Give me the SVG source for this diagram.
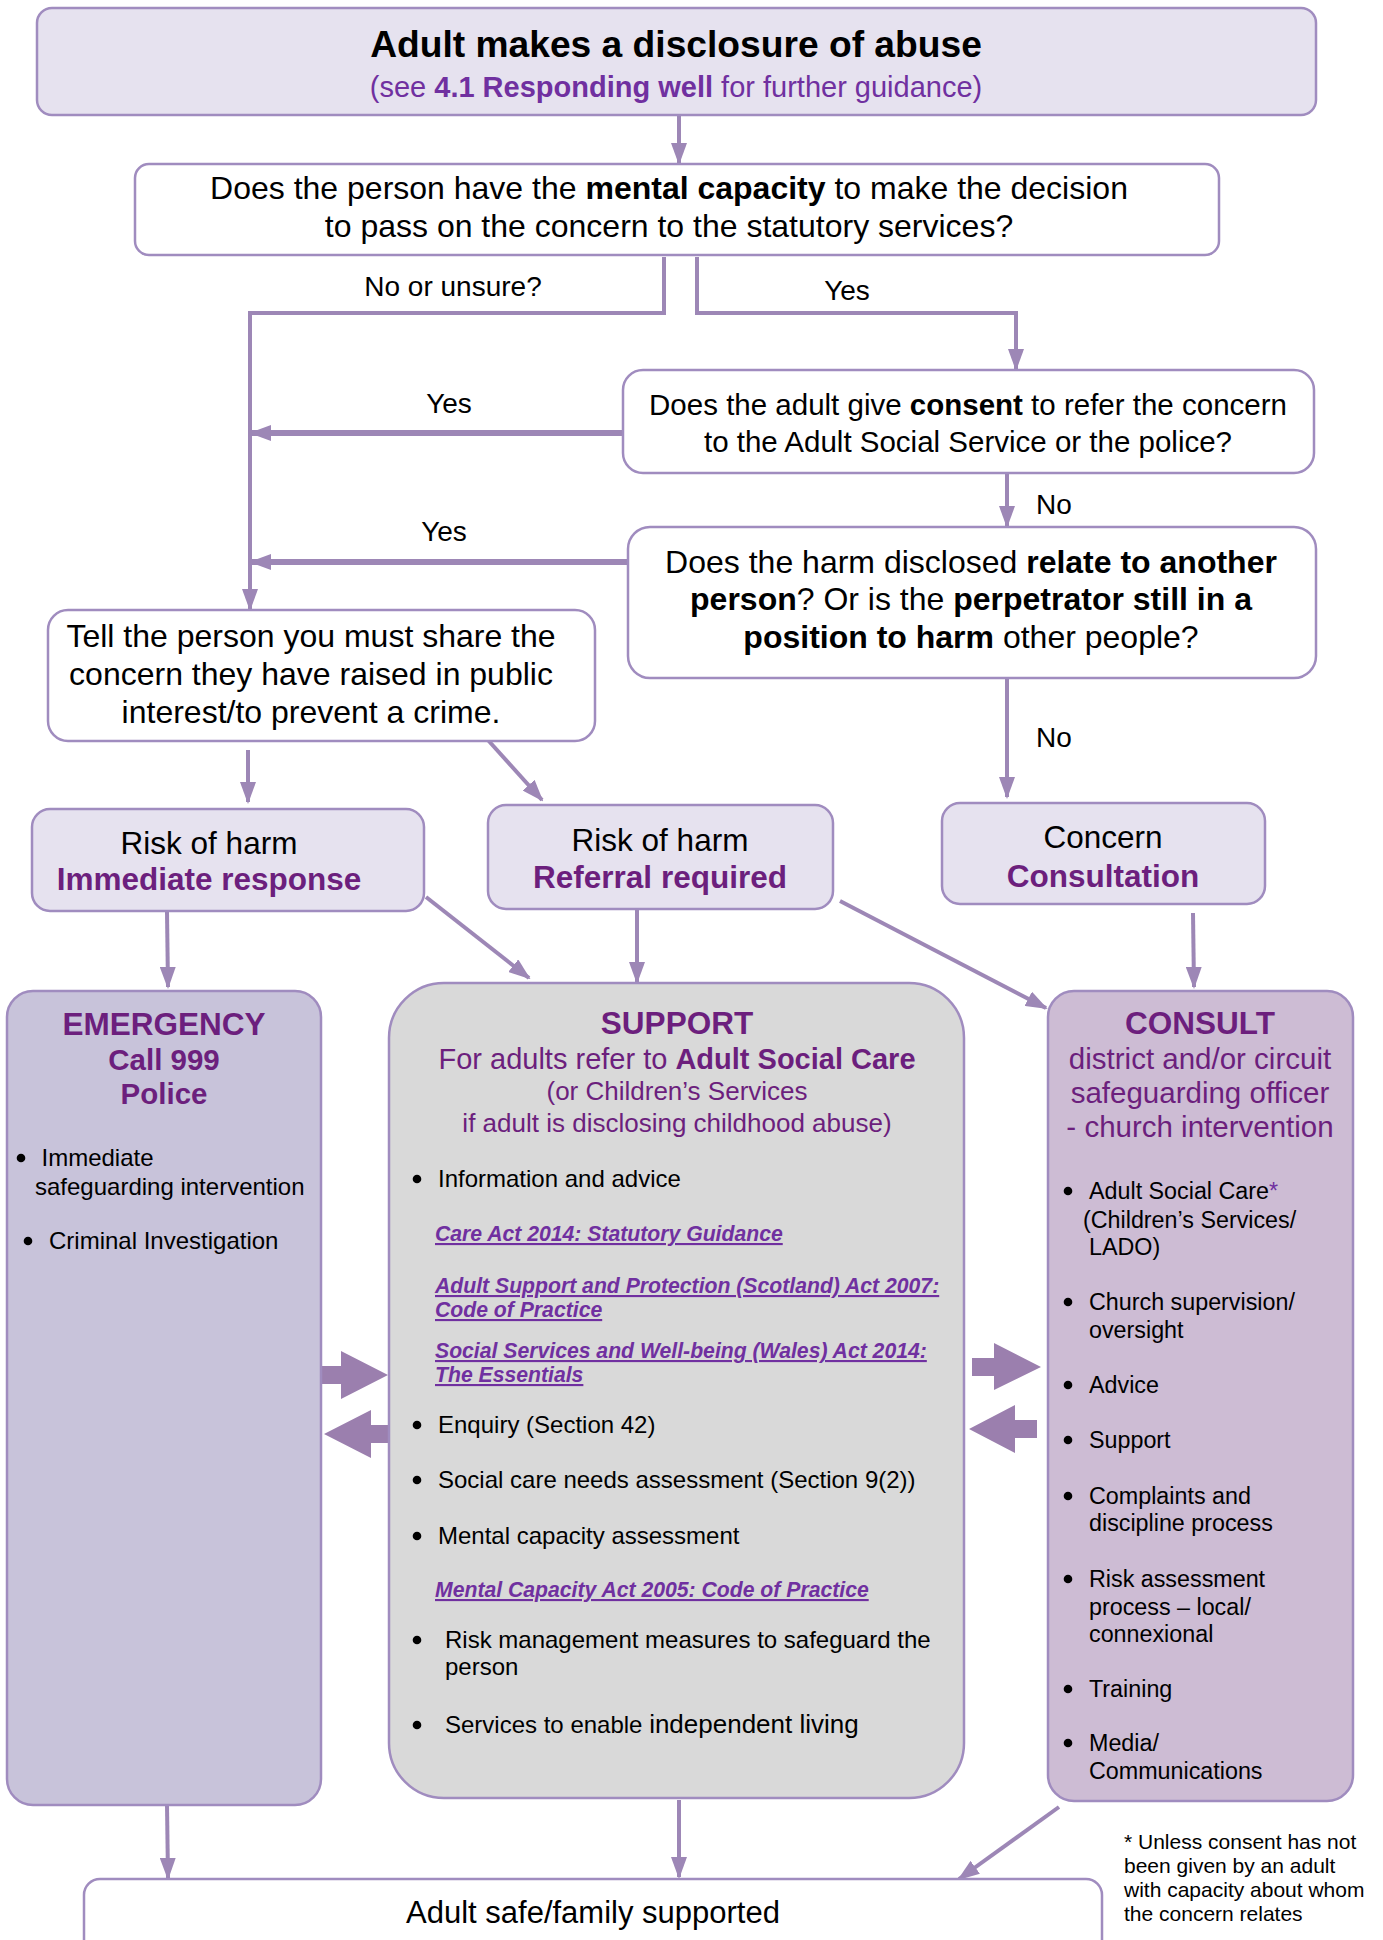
<svg xmlns="http://www.w3.org/2000/svg" width="1383" height="1940" viewBox="0 0 1383 1940">
<style>
text{font-family:"Liberation Sans",Arial,sans-serif;fill:#000}
.c{text-anchor:middle}
.b{font-weight:bold}
.p{fill:#6c1f7d}
.lk{fill:#7030a0;font-weight:bold;font-style:italic;font-size:21.2px;text-decoration:underline}
.box{stroke:#a08cbf;stroke-width:2.5}
.w{fill:#fff}
.lav{fill:#e6e2ef}
.conn{fill:none;stroke:#9d87b6;stroke-width:4}
.thick{stroke-width:6}
.blk{fill:#9b7fae}
.dot{fill:#000}
.lbl{font-size:28px}
</style>
<defs>
<marker id="ah" viewBox="0 0 22 16" markerWidth="22" markerHeight="16" refX="20" refY="8" orient="auto" markerUnits="userSpaceOnUse">
<path d="M0,0 L22,8 L0,16 z" fill="#9d87b6"/>
</marker>
</defs>

<g id="connectors">
<path class="conn" d="M679,115 V163" marker-end="url(#ah)"/>
<path class="conn" d="M664,257 V313 H250 V609" marker-end="url(#ah)"/>
<path class="conn" d="M697,257 V313 H1016 V369" marker-end="url(#ah)"/>
<path class="conn thick" d="M623,433 H251" marker-end="url(#ah)"/>
<path class="conn" d="M1007,473 V526" marker-end="url(#ah)"/>
<path class="conn thick" d="M628,562 H251" marker-end="url(#ah)"/>
<path class="conn" d="M1007,678 V797" marker-end="url(#ah)"/>
<path class="conn" d="M248,750 V802" marker-end="url(#ah)"/>
<path class="conn" d="M487,739 L542,800" marker-end="url(#ah)"/>
<path class="conn" d="M167,912 L168,987" marker-end="url(#ah)"/>
<path class="conn" d="M426,897 L529,978" marker-end="url(#ah)"/>
<path class="conn" d="M637,910 V982" marker-end="url(#ah)"/>
<path class="conn" d="M840,901 L1046,1008" marker-end="url(#ah)"/>
<path class="conn" d="M1193,913 L1194,987" marker-end="url(#ah)"/>
<path class="conn" d="M167,1805 L168,1878" marker-end="url(#ah)"/>
<path class="conn" d="M679,1800 V1877" marker-end="url(#ah)"/>
<path class="conn" d="M1059,1807 L959,1879" marker-end="url(#ah)"/>
<polygon class="blk" points="320,1366 341,1366 341,1351 388,1375 341,1399 341,1384 320,1384"/>
<polygon class="blk" points="394,1425 371,1425 371,1410 324,1434 371,1458 371,1443 394,1443"/>
<polygon class="blk" points="972,1358 994,1358 994,1343 1041,1367 994,1390 994,1376 972,1376"/>
<polygon class="blk" points="1037,1420 1015,1420 1015,1405 969,1429 1015,1453 1015,1438 1037,1438"/>
<text class="lbl c" x="453" y="296">No or unsure?</text>
<text class="lbl c" x="847" y="300">Yes</text>
<text class="lbl c" x="449" y="413">Yes</text>
<text class="lbl" x="1036" y="514">No</text>
<text class="lbl c" x="444" y="541">Yes</text>
<text class="lbl" x="1036" y="747">No</text>
</g>

<g id="disclosure">
<rect class="box lav" x="37" y="8" width="1279" height="107" rx="15"/>
<text class="c b" x="676" y="57" font-size="37.2">Adult makes a disclosure of abuse</text>
<text class="c" x="676" y="97" font-size="29" style="fill:#7030a0">(see <tspan font-weight="bold" style="fill:#7030a0">4.1 Responding well</tspan> for further guidance)</text>
</g>

<g id="capacity">
<rect class="box w" x="135" y="164" width="1084" height="91" rx="14"/>
<text class="c" x="669" y="199" font-size="32">Does the person have the <tspan class="b">mental capacity</tspan> to make the decision</text>
<text class="c" x="669" y="237" font-size="32">to pass on the concern to the statutory services?</text>
</g>

<g id="consent">
<rect class="box w" x="623" y="370" width="691" height="103" rx="20"/>
<text class="c" x="968" y="415" font-size="29.5">Does the adult give <tspan class="b">consent</tspan> to refer the concern</text>
<text class="c" x="968" y="452" font-size="29.5">to the Adult Social Service or the police?</text>
</g>

<g id="harm">
<rect class="box w" x="628" y="527" width="688" height="151" rx="22"/>
<text class="c" x="971" y="573" font-size="32">Does the harm disclosed <tspan class="b">relate to another</tspan></text>
<text class="c" x="971" y="610" font-size="32"><tspan class="b">person</tspan>? Or is the <tspan class="b">perpetrator still in a</tspan></text>
<text class="c" x="971" y="648" font-size="32"><tspan class="b">position to harm</tspan> other people?</text>
</g>

<g id="tell">
<rect class="box w" x="48" y="610" width="547" height="131" rx="20"/>
<text class="c" x="311" y="647" font-size="32">Tell the person you must share the</text>
<text class="c" x="311" y="685" font-size="32">concern they have raised in public</text>
<text class="c" x="311" y="723" font-size="32">interest/to prevent a crime.</text>
</g>

<g id="risk-immediate">
<rect class="box lav" x="32" y="809" width="392" height="102" rx="18"/>
<text class="c" x="209" y="854" font-size="31.5">Risk of harm</text>
<text class="c b p" x="209" y="890" font-size="31.5">Immediate response</text>
</g>

<g id="risk-referral">
<rect class="box lav" x="488" y="805" width="345" height="104" rx="18"/>
<text class="c" x="660" y="851" font-size="31.5">Risk of harm</text>
<text class="c b p" x="660" y="888" font-size="31.5">Referral required</text>
</g>

<g id="concern">
<rect class="box lav" x="942" y="803" width="323" height="101" rx="18"/>
<text class="c" x="1103" y="848" font-size="31.5">Concern</text>
<text class="c b p" x="1103" y="887" font-size="31.5">Consultation</text>
</g>

<g id="emergency">
<rect class="box" x="7" y="991" width="314" height="814" rx="26" fill="#c8c3da"/>
<text class="c b p" x="164" y="1035" font-size="31.5">EMERGENCY</text>
<text class="c b p" x="164" y="1070" font-size="29.5">Call 999</text>
<text class="c b p" x="164" y="1104" font-size="29.5">Police</text>
<circle class="dot" cx="21" cy="1158" r="4.3"/>
<text x="41.5" y="1166" font-size="24">Immediate</text>
<text x="35" y="1195" font-size="24">safeguarding intervention</text>
<circle class="dot" cx="28" cy="1241" r="4.3"/>
<text x="49" y="1249" font-size="24">Criminal Investigation</text>
</g>

<g id="support">
<rect class="box" x="389" y="983" width="575" height="815" rx="55" fill="#d9d9d9"/>
<text class="c b p" x="677" y="1034" font-size="31.5">SUPPORT</text>
<text class="c p" x="677" y="1069" font-size="29">For adults refer to <tspan class="b p">Adult Social Care</tspan></text>
<text class="c p" x="677" y="1100" font-size="26">(or Children’s Services</text>
<text class="c p" x="677" y="1132" font-size="26">if adult is disclosing childhood abuse)</text>
<circle class="dot" cx="417" cy="1179" r="4.3"/>
<text x="438" y="1187" font-size="24">Information and advice</text>
<text class="lk" x="435" y="1241">Care Act 2014: Statutory Guidance</text>
<text class="lk" x="435" y="1293">Adult Support and Protection (Scotland) Act 2007:</text>
<text class="lk" x="435" y="1317">Code of Practice</text>
<text class="lk" x="435" y="1358">Social Services and Well-being (Wales) Act 2014:</text>
<text class="lk" x="435" y="1382">The Essentials</text>
<circle class="dot" cx="417" cy="1425" r="4.3"/>
<text x="438" y="1433" font-size="24">Enquiry (Section 42)</text>
<circle class="dot" cx="417" cy="1480" r="4.3"/>
<text x="438" y="1488" font-size="24">Social care needs assessment (Section 9(2))</text>
<circle class="dot" cx="417" cy="1536" r="4.3"/>
<text x="438" y="1544" font-size="24">Mental capacity assessment</text>
<text class="lk" x="435" y="1597">Mental Capacity Act 2005: Code of Practice</text>
<circle class="dot" cx="417" cy="1640" r="4.3"/>
<text x="445" y="1648" font-size="24">Risk management measures to safeguard the</text>
<text x="445" y="1675" font-size="24">person</text>
<circle class="dot" cx="417" cy="1725" r="4.3"/>
<text x="445" y="1733" font-size="24">Services to enable <tspan font-size="26">independent living</tspan></text>
</g>

<g id="consult">
<rect class="box" x="1048" y="991" width="305" height="810" rx="26" fill="#cdbcd4"/>
<text class="c b p" x="1200" y="1034" font-size="31.5">CONSULT</text>
<text class="c p" x="1200" y="1069" font-size="29.5">district and/or circuit</text>
<text class="c p" x="1200" y="1103" font-size="29.5">safeguarding officer</text>
<text class="c p" x="1200" y="1137" font-size="29.5">- church intervention</text>
<circle class="dot" cx="1068" cy="1191" r="4.3"/>
<text x="1089" y="1199" font-size="23.3">Adult Social Care<tspan style="fill:#7030a0">*</tspan></text>
<text x="1083" y="1228" font-size="23.3">(Children’s Services/</text>
<text x="1089" y="1255" font-size="23.3">LADO)</text>
<circle class="dot" cx="1068" cy="1302" r="4.3"/>
<text x="1089" y="1310" font-size="23.3">Church supervision/</text>
<text x="1089" y="1338" font-size="23.3">oversight</text>
<circle class="dot" cx="1068" cy="1385" r="4.3"/>
<text x="1089" y="1393" font-size="23.3">Advice</text>
<circle class="dot" cx="1068" cy="1440" r="4.3"/>
<text x="1089" y="1448" font-size="23.3">Support</text>
<circle class="dot" cx="1068" cy="1496" r="4.3"/>
<text x="1089" y="1504" font-size="23.3">Complaints and</text>
<text x="1089" y="1531" font-size="23.3">discipline process</text>
<circle class="dot" cx="1068" cy="1579" r="4.3"/>
<text x="1089" y="1587" font-size="23.3">Risk assessment</text>
<text x="1089" y="1615" font-size="23.3">process – local/</text>
<text x="1089" y="1642" font-size="23.3">connexional</text>
<circle class="dot" cx="1068" cy="1689" r="4.3"/>
<text x="1089" y="1697" font-size="23.3">Training</text>
<circle class="dot" cx="1068" cy="1743" r="4.3"/>
<text x="1089" y="1751" font-size="23.3">Media/</text>
<text x="1089" y="1779" font-size="23.3">Communications</text>
</g>

<g id="outcome">
<rect class="box w" x="84" y="1879" width="1018" height="90" rx="16"/>
<text class="c" x="593" y="1923" font-size="31">Adult safe/family supported</text>
</g>

<g id="footnote">
<text x="1124" y="1849" font-size="21">* Unless consent has not</text>
<text x="1124" y="1873" font-size="21">been given by an adult</text>
<text x="1124" y="1897" font-size="21">with capacity about whom</text>
<text x="1124" y="1921" font-size="21">the concern relates</text>
</g>
</svg>
